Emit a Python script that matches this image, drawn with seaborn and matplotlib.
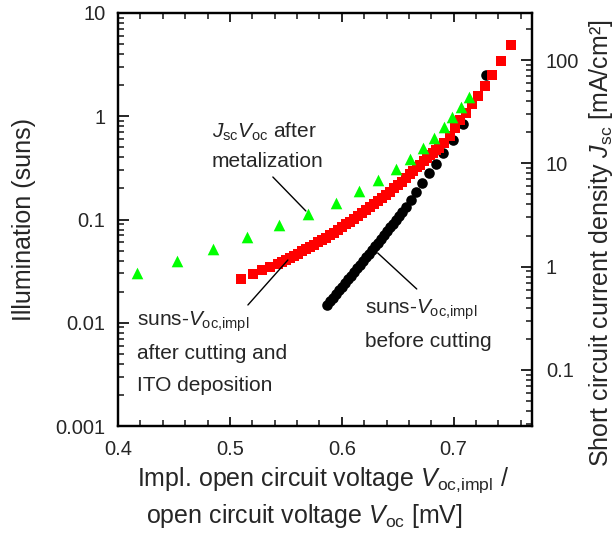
import numpy as np
import pandas as pd
import matplotlib
matplotlib.use("Agg")
import matplotlib.pyplot as plt
import seaborn as sns
from matplotlib.ticker import FixedLocator, FixedFormatter, LogLocator, NullFormatter, MultipleLocator

# ---------------- data ----------------
# suns-Voc,impl before cutting (black circles)
black_v = [0.5866, 0.5893, 0.5920, 0.5946, 0.5973, 0.6000, 0.6027, 0.6054, 0.6080,
           0.6107, 0.6134, 0.6161, 0.6188, 0.6214, 0.6241, 0.6268, 0.6295, 0.6321,
           0.6348, 0.6375, 0.6402, 0.6429, 0.6455, 0.6482, 0.6509, 0.6536, 0.6578,
           0.6622, 0.6667, 0.6721, 0.6779, 0.6839, 0.6908, 0.6994, 0.7083, 0.7292]
black_suns = [0.01486, 0.01609, 0.01748, 0.01899, 0.02062, 0.02240, 0.02427, 0.02636,
              0.02855, 0.03101, 0.03361, 0.03649, 0.03955, 0.04295, 0.04654, 0.05043,
              0.05477, 0.05949, 0.06475, 0.07047, 0.07669, 0.08367, 0.09128, 0.09977,
              0.1091, 0.1195, 0.1322, 0.1545, 0.1867, 0.2257, 0.2802, 0.3486, 0.4378,
              0.5888, 0.8320, 2.509]

# suns-Voc,impl after cutting and ITO deposition (red squares)
red_v = [0.5098, 0.5205, 0.5286, 0.5357, 0.5429, 0.5464, 0.5500, 0.5536, 0.5571,
         0.5607, 0.5643, 0.5679, 0.5714, 0.5750, 0.5786, 0.5821, 0.5857, 0.5893,
         0.5929, 0.5964, 0.6000, 0.6036, 0.6071, 0.6107, 0.6143, 0.6179, 0.6214,
         0.6250, 0.6286, 0.6321, 0.6357, 0.6393, 0.6429, 0.6464, 0.6500, 0.6536,
         0.6571, 0.6607, 0.6634, 0.6670, 0.6696, 0.6732, 0.6759, 0.6786, 0.6813,
         0.6839, 0.6866, 0.6911, 0.6964, 0.7009, 0.7060, 0.7113, 0.7163, 0.7217,
         0.7283, 0.7346, 0.7420, 0.7509]
red_suns = [0.02636, 0.02934, 0.03208, 0.03467, 0.03748, 0.03894, 0.04052, 0.04238,
            0.04431, 0.04654, 0.04899, 0.05145, 0.05417, 0.05689, 0.05989, 0.06288,
            0.06620, 0.07031, 0.07481, 0.07948, 0.08461, 0.08985, 0.09563, 0.1016,
            0.1081, 0.1156, 0.1236, 0.1322, 0.1413, 0.1511, 0.1615, 0.1735, 0.1867,
            0.2005, 0.2158, 0.2333, 0.2522, 0.2728, 0.2949, 0.3189, 0.3409, 0.3686,
            0.3941, 0.4168, 0.4407, 0.4660, 0.4927, 0.5508, 0.6438, 0.7644, 0.9198,
            1.082, 1.314, 1.571, 1.963, 2.509, 3.451, 4.899]

# JscVoc after metalization (green triangles)
green_v = [0.4170, 0.4527, 0.4848, 0.5152, 0.5438, 0.5696, 0.5946, 0.6152, 0.6321,
           0.6482, 0.6607, 0.6723, 0.6821, 0.6911, 0.6982, 0.7063, 0.7134]
green_suns = [0.0305, 0.0399, 0.0518, 0.0673, 0.0885, 0.113, 0.1435, 0.189, 0.2415,
              0.306, 0.385, 0.493, 0.615, 0.782, 0.984, 1.22, 1.545]

left_ticks = [0.001, 0.01, 0.1, 1, 10]
left_labels = ["0.001", "0.01", "0.1", "1", "10"]
right_ticks = [0.1, 1, 10, 100]
right_labels = ["0.1", "1", "10", "100"]
x_ticks = [0.4, 0.5, 0.6, 0.7]
x_labels = ["0.4", "0.5", "0.6", "0.7"]

# ---------------- style ----------------
sns.set_style("ticks")
plt.rcParams["font.family"] = ["Liberation Sans", "DejaVu Sans"]
plt.rcParams["mathtext.fontset"] = "custom"
plt.rcParams["mathtext.rm"] = "Liberation Sans"
plt.rcParams["mathtext.it"] = "Liberation Sans:italic"
plt.rcParams["mathtext.bf"] = "Liberation Sans:bold"

W, H = 616, 536
fig = plt.figure(figsize=(W / 100, H / 100), dpi=100)
ax = fig.add_axes([118 / W, 1 - 426 / H, 414 / W, 413 / H])

df_black = pd.DataFrame({"V": black_v, "suns": black_suns})
df_red = pd.DataFrame({"V": red_v, "suns": red_suns})
df_green = pd.DataFrame({"V": green_v, "suns": green_suns})

sns.scatterplot(data=df_black, x="V", y="suns", ax=ax, color="black", marker="o",
                s=58, linewidth=0, zorder=2)
sns.scatterplot(data=df_red, x="V", y="suns", ax=ax, color="#ff0000", marker="s",
                s=48, linewidth=0, zorder=3)
sns.scatterplot(data=df_green, x="V", y="suns", ax=ax, color="#00ff00", marker="^",
                s=70, linewidth=0, zorder=4)

ax.set_yscale("log")
ax.set_xlim(0.4, 0.77)
ax.set_ylim(0.001, 10)
ax.set_xlabel("")
ax.set_ylabel("")

ax.yaxis.set_major_locator(FixedLocator(left_ticks))
ax.yaxis.set_major_formatter(FixedFormatter(left_labels))
ax.yaxis.set_minor_locator(LogLocator(base=10, subs=np.arange(2, 10)))
ax.yaxis.set_minor_formatter(NullFormatter())
ax.xaxis.set_major_locator(FixedLocator(x_ticks))
ax.xaxis.set_major_formatter(FixedFormatter(x_labels))
ax.xaxis.set_minor_locator(MultipleLocator(0.02))

ax.tick_params(axis="y", which="major", direction="in", length=8, width=1.4,
               labelsize=14.5, pad=9, left=True, right=False)
ax.tick_params(axis="y", which="minor", direction="in", length=4.5, width=1.2,
               left=True, right=False)
ax.tick_params(axis="x", which="major", direction="in", length=6.5, width=1.4,
               labelsize=14.5, pad=10, top=True, bottom=True)
ax.tick_params(axis="x", which="minor", direction="in", length=4.5, width=1.2,
               top=True, bottom=True)

ax2 = ax.twinx()
ax2.set_yscale("log")
ax2.set_ylim(0.0286, 286)
ax2.yaxis.set_major_locator(FixedLocator(right_ticks))
ax2.yaxis.set_major_formatter(FixedFormatter(right_labels))
ax2.yaxis.set_minor_locator(LogLocator(base=10, subs=np.arange(2, 10)))
ax2.yaxis.set_minor_formatter(NullFormatter())
ax2.tick_params(axis="y", which="major", direction="in", length=8, width=1.4,
                labelsize=14.5, pad=10)
ax2.tick_params(axis="y", which="minor", direction="in", length=4.5, width=1.2)

for a in (ax, ax2):
    for sp in a.spines.values():
        sp.set_linewidth(1.6)
        sp.set_color("black")
        sp.set_visible(True)

# ---------------- axis labels ----------------
def fx(px):
    return px / W

def fy(py):
    return 1 - py / H

fig.text(fx(24), fy(219.5), "Illumination (suns)", rotation=90, ha="center",
         va="center", fontsize=18)
fig.text(fx(601), fy(243), r"Short circuit current density $J_\mathrm{sc}$ [mA/cm²]",
         rotation=90, ha="center", va="center", fontsize=18)
fig.text(fx(323), fy(486), r"Impl. open circuit voltage $V_\mathrm{oc{,}impl}$ /",
         ha="center", va="baseline", fontsize=18)
fig.text(fx(304), fy(523), r"open circuit voltage $V_\mathrm{oc}$ [mV]",
         ha="center", va="baseline", fontsize=18)

# ---------------- annotations ----------------
fs_ann = 15
fig.text(fx(212), fy(138), r"$J_\mathrm{sc}V_\mathrm{oc}$ after", ha="left",
         va="baseline", fontsize=fs_ann)
fig.text(fx(212), fy(167), "metalization", ha="left", va="baseline", fontsize=fs_ann)

fig.text(fx(137), fy(326), r"suns-$V_\mathrm{oc{,}impl}$", ha="left", va="baseline",
         fontsize=fs_ann)
fig.text(fx(137), fy(359), "after cutting and", ha="left", va="baseline", fontsize=fs_ann)
fig.text(fx(137), fy(391), "ITO deposition", ha="left", va="baseline", fontsize=fs_ann)

fig.text(fx(365), fy(314), r"suns-$V_\mathrm{oc{,}impl}$", ha="left", va="baseline",
         fontsize=fs_ann)
fig.text(fx(365), fy(347), "before cutting", ha="left", va="baseline", fontsize=fs_ann)

line_kw = dict(arrowprops=dict(arrowstyle="-", color="black", lw=1.0,
                               shrinkA=0, shrinkB=0), annotation_clip=False)
ax.annotate("", xy=(0.5679, 0.1209), xytext=(0.5384, 0.258), **line_kw)
ax.annotate("", xy=(0.5518, 0.0405), xytext=(0.5161, 0.01486), **line_kw)
ax.annotate("", xy=(0.6321, 0.0474), xytext=(0.6670, 0.02123), **line_kw)

fig.savefig("out.png", dpi=100)
